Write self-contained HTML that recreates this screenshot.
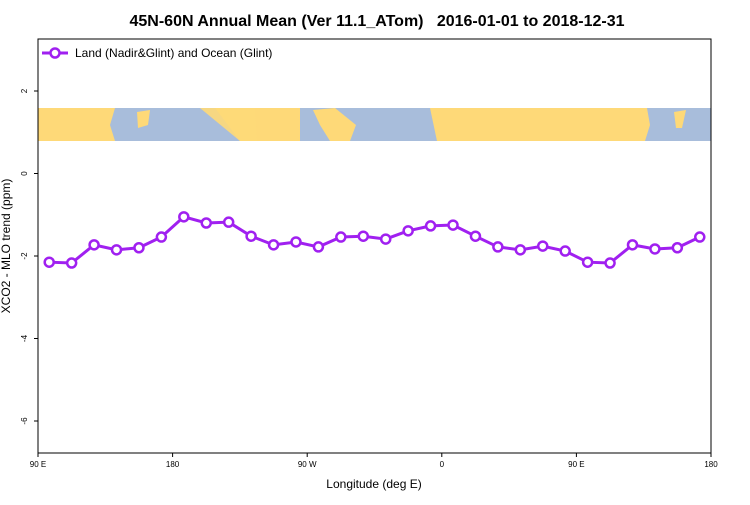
<!DOCTYPE html>
<html><head><meta charset="utf-8"><style>
body{margin:0;background:#fff;}
text{font-family:"Liberation Sans",sans-serif;}
</style></head><body>
<svg id="chart" width="750" height="500" viewBox="0 0 750 500">
<text x="377" y="26" text-anchor="middle" font-size="16" font-weight="bold" style="white-space:pre" xml:space="preserve">45N-60N Annual Mean (Ver 11.1_ATom)   2016-01-01 to 2018-12-31</text>
<g>
<rect x="38" y="108" width="673" height="33" fill="#FED978"/>
<polygon points="115,108 160,108 215,108 240,141 115,141 110,125" fill="#A8BDDB"/>
<polygon points="137,112 150,110 148,125 138,128" fill="#FED978"/>
<polygon points="200,108 255,108 257,141 240,141" fill="#FED978" opacity="0.9"/>
<polygon points="300,108 437,108 440,141 300,141" fill="#A8BDDB"/>
<polygon points="313,110 335,108 356,125 350,141 330,141 320,125" fill="#FED978"/>
<polygon points="430,108 445,108 455,141 437,141" fill="#FED978"/>
<polygon points="647,108 711,108 711,141 645,141 650,125" fill="#A8BDDB"/>
<polygon points="674,112 686,110 682,128 676,128" fill="#FED978"/>
</g>
<rect x="38" y="39" width="673" height="414" fill="none" stroke="#000" stroke-width="1"/>
<g id="axes"></g>
<text x="374" y="488" text-anchor="middle" font-size="12">Longitude (deg E)</text>
<text transform="translate(10,246) rotate(-90)" text-anchor="middle" font-size="12">XCO2 - MLO trend (ppm)</text>
<g>
<line x1="42" y1="53" x2="68" y2="53" stroke="#A020F0" stroke-width="3"/>
<circle cx="55" cy="53" r="4.5" fill="#fff" stroke="#A020F0" stroke-width="2.5"/>
<text x="75" y="57" font-size="12">Land (Nadir&amp;Glint) and Ocean (Glint)</text>
</g>
<g id="series"></g>
</svg>
<script>
const lons=[97.5,112.5,127.5,142.5,157.5,172.5,187.5,202.5,217.5,232.5,247.5,262.5,277.5,292.5,307.5,322.5,337.5,352.5,367.5,382.5,397.5,412.5,427.5,442.5,457.5,472.5,487.5,502.5,517.5,532.5];
const values=[-2.15,-2.17,-1.73,-1.85,-1.8,-1.54,-1.05,-1.2,-1.18,-1.52,-1.73,-1.66,-1.78,-1.54,-1.52,-1.59,-1.39,-1.27,-1.25,-1.52,-1.78,-1.85,-1.76,-1.88,-2.15,-2.17,-1.73,-1.83,-1.8,-1.54];
const xTickLabels=["90 E","180","90 W","0","90 E","180"];
const xTickVals=[90,180,270,360,450,540];
const yTicks=[2,0,-2,-4,-6];
const NS="http://www.w3.org/2000/svg";
const x=v=>38+(v-90)*673/450;
const y=v=>173.5-v*41.25;
const axes=document.getElementById('axes');
xTickVals.forEach((v,i)=>{
 const l=document.createElementNS(NS,'line');
 l.setAttribute('x1',x(v));l.setAttribute('x2',x(v));l.setAttribute('y1',453);l.setAttribute('y2',457);l.setAttribute('stroke','#000');
 
 
 axes.appendChild(l);
 const t=document.createElementNS(NS,'text');
 t.setAttribute('x',x(v));t.setAttribute('y',467);t.setAttribute('font-size','8');t.setAttribute('text-anchor','middle');
 t.textContent=xTickLabels[i];
 
 
 axes.appendChild(t);
});
yTicks.forEach(v=>{
 const l=document.createElementNS(NS,'line');
 l.setAttribute('x1',34);l.setAttribute('x2',38);l.setAttribute('y1',y(v));l.setAttribute('y2',y(v));l.setAttribute('stroke','#000');
 
 
 axes.appendChild(l);
 const t=document.createElementNS(NS,'text');
 t.setAttribute('transform',`translate(27,${y(v)}) rotate(-90)`);t.setAttribute('font-size','8');t.setAttribute('text-anchor','middle');
 t.textContent=v;
 
 
 axes.appendChild(t);
});
const s=document.getElementById('series');
const pl=document.createElementNS(NS,'polyline');
pl.setAttribute('points',lons.map((l,i)=>x(l)+','+y(values[i])).join(' '));
pl.setAttribute('fill','none');pl.setAttribute('stroke','#A020F0');pl.setAttribute('stroke-width','3');


s.appendChild(pl);
lons.forEach((l,i)=>{
 const c=document.createElementNS(NS,'circle');
 c.setAttribute('cx',x(l));c.setAttribute('cy',y(values[i]));c.setAttribute('r','4.5');
 c.setAttribute('fill','#fff');c.setAttribute('stroke','#A020F0');c.setAttribute('stroke-width','2.5');
 
 
 s.appendChild(c);
});
</script>
</body></html>
